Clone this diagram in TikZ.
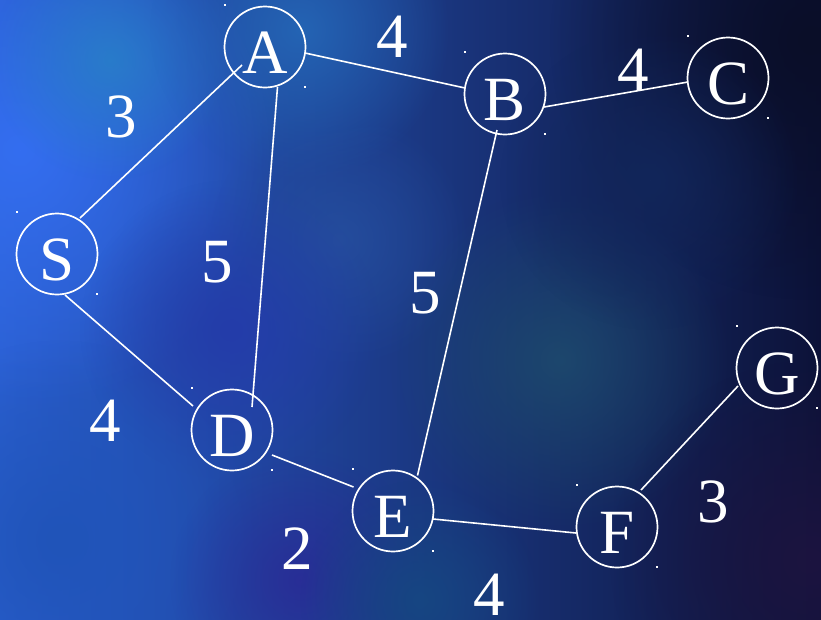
\documentclass[tikz,border=0pt]{standalone}
\usepackage{fontspec}
\setmainfont{Liberation Serif}
\usetikzlibrary{calc,fadings}
\tikzfading[name=blob, inner color=transparent!0, outer color=transparent!100]
\definecolor{bgL}{HTML}{2A5FD0}
\definecolor{bgR}{HTML}{0C1238}
\tikzset{
  vert/.style={circle, draw=white, line width=1.7pt, minimum size=81pt, inner sep=0pt,
    text=white, font=\fontsize{63}{63}\selectfont, text height=53pt, text depth=0pt},
  edge/.style={white, line width=1.6pt},
  wlabel/.style={text=white, font=\fontsize{63}{63}\selectfont, inner sep=0pt, anchor=base},
  dotmark/.style={fill=white},
  glow/.style={path fading=blob}
}
\begin{document}
\begin{tikzpicture}[x=1pt,y=-1pt]
\useasboundingbox (0,0) rectangle (821,619);
\begin{scope}
\clip (0,0) rectangle (821,619);
\shade[left color=bgL, right color=bgR] (0,0) rectangle (821,619);
\fill[glow, fill={rgb,255:red,52;green,110;blue,240}] (20,150) circle (260);
\fill[glow, fill={rgb,255:red,40;green,128;blue,200}, opacity=0.85] (110,60) circle (120);
\fill[glow, fill={rgb,255:red,36;green,100;blue,180}] (300,30) circle (150);
\fill[glow, fill={rgb,255:red,38;green,80;blue,160}, opacity=0.8] (340,240) circle (130);
\fill[glow, fill={rgb,255:red,36;green,60;blue,170}] (230,330) circle (150);
\fill[glow, fill={rgb,255:red,30;green,76;blue,110}, opacity=0.85] (560,360) circle (170);
\fill[glow, fill={rgb,255:red,32;green,84;blue,185}] (60,540) circle (200);
\fill[glow, fill={rgb,255:red,42;green,42;blue,150}, opacity=0.85] (300,580) circle (130);
\fill[glow, fill={rgb,255:red,22;green,70;blue,130}] (420,600) circle (120);
\fill[glow, fill={rgb,255:red,10;green,14;blue,40}] (810,40) circle (260);
\fill[glow, fill={rgb,255:red,28;green,20;blue,64}] (810,560) circle (200);
\fill[glow, fill={rgb,255:red,18;green,38;blue,90}] (650,180) circle (150);
\end{scope}

\node[vert] (A) at (265,47) {A};
\node[vert] (B) at (505,94) {B};
\node[vert] (C) at (728,78) {C};
\node[vert] (S) at (57,254) {S};
\node[vert] (D) at (232,430) {D};
\node[vert] (E) at (393,511) {E};
\node[vert] (F) at (617,527) {F};
\node[vert] (G) at (777,368) {G};

\foreach \n in {A,B,C,S,D,E,F,G}{
  \fill[dotmark] ($(\n)+(-41,-41)$) rectangle ++(2,-2);
  \fill[dotmark] ($(\n)+(39,41)$) rectangle ++(2,-2);
}

\draw[edge] ($(S)+(23,-36)$) -- ($(A)+(-23,18)$);
\draw[edge] ($(S)+(8,41)$) -- ($(D)+(-39,-24)$);
\draw[edge] ($(A)+(12.5,40)$) -- ($(D)+(20,-23)$);
\draw[edge] ($(A)+(40,6)$) -- ($(B)+(-40,-6)$);
\draw[edge] ($(B)+(39,13)$) -- ($(C)+(-40,4)$);
\draw[edge] ($(B)+(-8,36)$) -- ($(E)+(24.5,-35.5)$);
\draw[edge] ($(D)+(40,25)$) -- ($(E)+(-39.5,-24)$);
\draw[edge] ($(E)+(40,8)$) -- ($(F)+(-41,6)$);
\draw[edge] ($(F)+(24,-37)$) -- ($(G)+(-39,18)$);

\node[wlabel] (wAB) at (392,57) {4};
\node[wlabel] (wBC) at (633,90) {4};
\node[wlabel] (wSA) at (121,137) {3};
\node[wlabel] (wAD) at (217,282) {5};
\node[wlabel] (wBE) at (425,313) {5};
\node[wlabel] (wSD) at (105,441) {4};
\node[wlabel] (wDE) at (297,569) {2};
\node[wlabel] (wEF) at (489,615) {4};
\node[wlabel] (wFG) at (713,522) {3};
\end{tikzpicture}
\end{document}
